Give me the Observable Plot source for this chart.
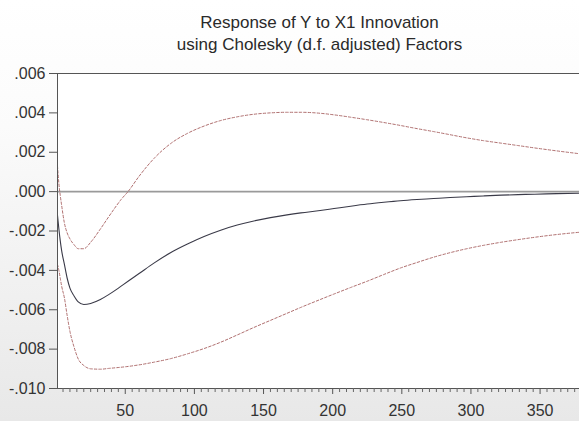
<!DOCTYPE html>
<html>
<head>
<meta charset="utf-8">
<script src="https://cdn.jsdelivr.net/npm/d3@7"></script>
<script src="https://cdn.jsdelivr.net/npm/@observablehq/plot@0.6"></script>
<style>
  html, body { margin: 0; padding: 0; }
  body {
    width: 579px; height: 421px; overflow: hidden;
    background: linear-gradient(to bottom, #ffffff 0%, #fbfbfb 30%, #e8e8e8 100%);
    font-family: "Liberation Sans", Arial, sans-serif;
  }
  #title {
    height: 60px; box-sizing: border-box; padding-top: 12px;
    padding-left: 60px;
    text-align: center; font-size: 17px; line-height: 22px; color: #2a2a2a;
  }
  #chart svg { display: block; }
</style>
</head>
<body>
<div id="title">Response of Y to X1 Innovation<br>using Cholesky (d.f. adjusted) Factors</div>
<div id="chart"></div>
<script>
const periods  = [1, 2, 3, 4, 6, 8, 10, 13, 16, 20, 25, 32, 38, 44, 47, 52, 60, 71, 83, 95, 107, 119, 131, 143, 155, 167, 177, 191, 201, 213, 225, 237, 249, 261, 273, 285, 297, 309, 322, 334, 346, 362, 379];
const response = [-0.0012, -0.0019, -0.0025, -0.0030, -0.0037, -0.0044, -0.0049, -0.0053, -0.0056, -0.00573, -0.00568, -0.00548, -0.00523, -0.00495, -0.00480, -0.00455, -0.00416, -0.00362, -0.00309, -0.00266, -0.00228, -0.00196, -0.00170, -0.00149, -0.00132, -0.00118, -0.00108, -0.00096, -0.00086, -0.00074, -0.00063, -0.00054, -0.00046, -0.00040, -0.00035, -0.00030, -0.00026, -0.00022, -0.00018, -0.00015, -0.00013, -0.00010, -0.00008];
const upper    = [0.0013, 0.0004, -0.0002, -0.0007, -0.0016, -0.0021, -0.0024, -0.0027, -0.0029, -0.0029, -0.00257, -0.0019, -0.00128, -0.00068, -0.00040, 0.0000, 0.00078, 0.00170, 0.00245, 0.00296, 0.00333, 0.00361, 0.0038, 0.00393, 0.00400, 0.00403, 0.00403, 0.00398, 0.00390, 0.00378, 0.00365, 0.00351, 0.00336, 0.00320, 0.00305, 0.00289, 0.00273, 0.00259, 0.00246, 0.00234, 0.00222, 0.00207, 0.00192];
const lower    = [-0.0037, -0.0040, -0.0044, -0.0048, -0.0054, -0.0063, -0.0071, -0.0079, -0.0085, -0.00883, -0.0090, -0.00902, -0.00898, -0.00894, -0.00892, -0.00888, -0.0088, -0.00866, -0.00848, -0.00824, -0.00797, -0.00765, -0.00728, -0.00690, -0.00654, -0.00618, -0.00588, -0.00548, -0.00520, -0.00487, -0.00455, -0.00421, -0.00388, -0.00360, -0.00333, -0.00310, -0.00290, -0.00273, -0.00257, -0.00244, -0.00232, -0.00218, -0.00206];
const yTicks = [-0.010, -0.008, -0.006, -0.004, -0.002, 0.000, 0.002, 0.004, 0.006];
const xTicks = [50, 100, 150, 200, 250, 300, 350];
const xMinorTicks = d3.range(5, 380, 5).filter(v => v % 50 !== 0);
const xDomain = [1, 378.5];
const yDomain = [-0.010, 0.006];

const data = periods.map((p, i) => ({period: p, response: response[i], upper: upper[i], lower: lower[i]}));
const yFmt = v => { const s = d3.format(".3f")(Math.abs(v)).replace(/^0/, ""); return (v < -1e-12 ? "-" : "") + s; };

const chart = Plot.plot({
  width: 579,
  height: 361,
  marginTop: 13,
  marginBottom: 33,
  marginLeft: 57,
  marginRight: 0,
  x: {domain: xDomain},
  y: {domain: yDomain},
  style: {background: "transparent", fontFamily: "'Liberation Sans', Arial, sans-serif", fontSize: "16px", color: "#333"},
  marks: [
    Plot.frame({fill: "white", stroke: null}),
    Plot.ruleY([0], {stroke: "#9a9a9a", strokeWidth: 1.6}),
    Plot.lineY(data, {x: "period", y: "upper", stroke: "#b07070", strokeWidth: 1, strokeDasharray: "2.5,2", curve: "monotone-x"}),
    Plot.lineY(data, {x: "period", y: "lower", stroke: "#b07070", strokeWidth: 1, strokeDasharray: "2.5,2", curve: "monotone-x"}),
    Plot.lineY(data, {x: "period", y: "response", stroke: "#3a3a48", strokeWidth: 1.1, curve: "monotone-x"}),
    Plot.ruleY([yDomain[0], yDomain[1]], {stroke: "#555", strokeWidth: 1}),
    Plot.ruleX([xDomain[0]], {stroke: "#555", strokeWidth: 1}),
    Plot.axisY({ticks: yTicks, tickSize: 8, tickPadding: 4, tickFormat: yFmt, stroke: "#555", fontSize: 16, label: null}),
    Plot.axisX({ticks: xMinorTicks, tickSize: 4, tickFormat: () => "", stroke: "#666", label: null}),
    Plot.axisX({ticks: xTicks, tickSize: 6, tickPadding: 10, tickFormat: d => String(d), stroke: "#555", fontSize: 16, label: null})
  ]
});
document.getElementById("chart").appendChild(chart);
</script>
</body>
</html>
